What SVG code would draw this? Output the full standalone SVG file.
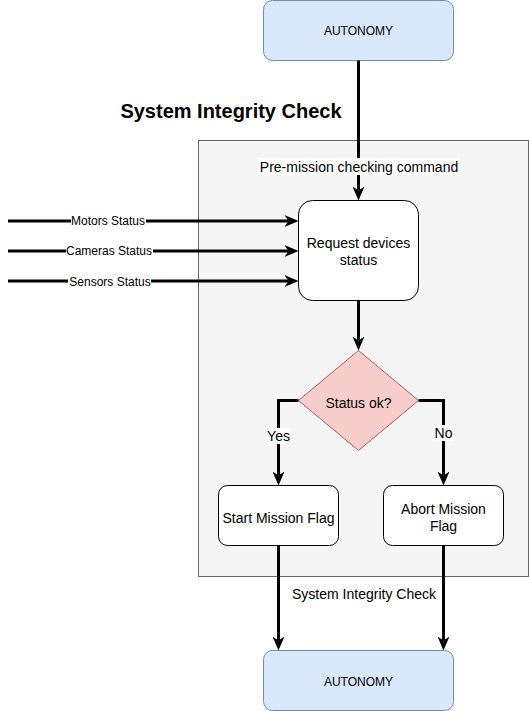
<svg xmlns="http://www.w3.org/2000/svg" width="529" height="711" viewBox="0 0 529 711">
<style>
text{font-family:"Liberation Sans",Arial,Helvetica,sans-serif;fill:#000;text-anchor:middle}
.t14{font-size:14px}
.t12{font-size:12px}
.lbl{font-size:12px}
.title{font-size:20px;font-weight:bold}
.auto{fill:#dae8fc;stroke:#6c8ebf;stroke-width:1}
.proc{fill:#fff;stroke:#000;stroke-width:1}
.dec{fill:#f8cecc;stroke:#b85450;stroke-width:1}
.edge{fill:none;stroke:#000;stroke-width:3}
.bg{fill:#fff}
</style>
<defs>
<marker id="arr" viewBox="0 0 14 12" refX="4" refY="6" markerWidth="14" markerHeight="12" markerUnits="userSpaceOnUse" orient="auto">
<path d="M0,0 L14,6 L0,12 L4,6 Z" fill="#000"/>
</marker>
</defs>
<g id="container">
<rect x="198.5" y="140.5" width="330" height="436" fill="#f5f5f5" stroke="#666"/>
</g>
<g id="title">
<text class="title" x="231" y="118">System Integrity Check</text>
</g>
<g id="autonomy-top">
<rect class="auto" x="263.5" y="0.5" width="190" height="60" rx="9"/>
<text class="t12" x="358.5" y="35">AUTONOMY</text>
</g>
<g id="request">
<rect class="proc" x="298.5" y="200.5" width="120" height="100" rx="14"/>
<text class="t14" x="358.5" y="248">Request devices</text>
<text class="t14" x="358.5" y="265">status</text>
</g>
<g id="decision">
<polygon class="dec" points="358.5,350.5 418.5,400.5 358.5,450.5 298.5,400.5"/>
<text class="t14" x="358.5" y="408">Status ok?</text>
</g>
<g id="start">
<rect class="proc" x="218.5" y="485.5" width="120" height="60" rx="9"/>
<text class="t14" x="278.5" y="523">Start Mission Flag</text>
</g>
<g id="abort">
<rect class="proc" x="383.5" y="485.5" width="120" height="60" rx="9"/>
<text class="t14" x="443.5" y="514">Abort Mission</text>
<text class="t14" x="443.5" y="531">Flag</text>
</g>
<g id="autonomy-bottom">
<rect class="auto" x="263.5" y="650.5" width="190" height="60" rx="9"/>
<text class="t12" x="358.5" y="686">AUTONOMY</text>
</g>
<g id="connectors">
<path class="edge" d="M358.5,60.5 V190.5" marker-end="url(#arr)"/>
<path class="edge" d="M8,221 H288.5" marker-end="url(#arr)"/>
<path class="edge" d="M8,251 H288.5" marker-end="url(#arr)"/>
<path class="edge" d="M8,281 H288.5" marker-end="url(#arr)"/>
<path class="edge" d="M358.5,300.5 V340.5" marker-end="url(#arr)"/>
<path class="edge" d="M298.5,400.5 H278.5 V475.5" marker-end="url(#arr)"/>
<path class="edge" d="M418.5,400.5 H443.5 V475.5" marker-end="url(#arr)"/>
<path class="edge" d="M278.5,545.5 V640.5" marker-end="url(#arr)"/>
<path class="edge" d="M443.5,545.5 V640.5" marker-end="url(#arr)"/>
<rect class="bg" x="258" y="158" width="202" height="17"/>
<text class="t14" x="359" y="172">Pre-mission checking command</text>
<rect class="bg" x="71" y="214" width="75" height="14"/>
<text class="lbl" x="108" y="225">Motors Status</text>
<rect class="bg" x="66" y="244" width="87" height="14"/>
<text class="lbl" x="109" y="255">Cameras Status</text>
<rect class="bg" x="68" y="274" width="83" height="14"/>
<text class="lbl" x="110" y="286">Sensors Status</text>
<rect class="bg" x="267" y="428" width="23" height="16"/>
<text class="t14" x="278.5" y="441">Yes</text>
<rect class="bg" x="433" y="425" width="21" height="16"/>
<text class="t14" x="443.5" y="438">No</text>
<text class="t14" x="364" y="599">System Integrity Check</text>
</g>
</svg>
